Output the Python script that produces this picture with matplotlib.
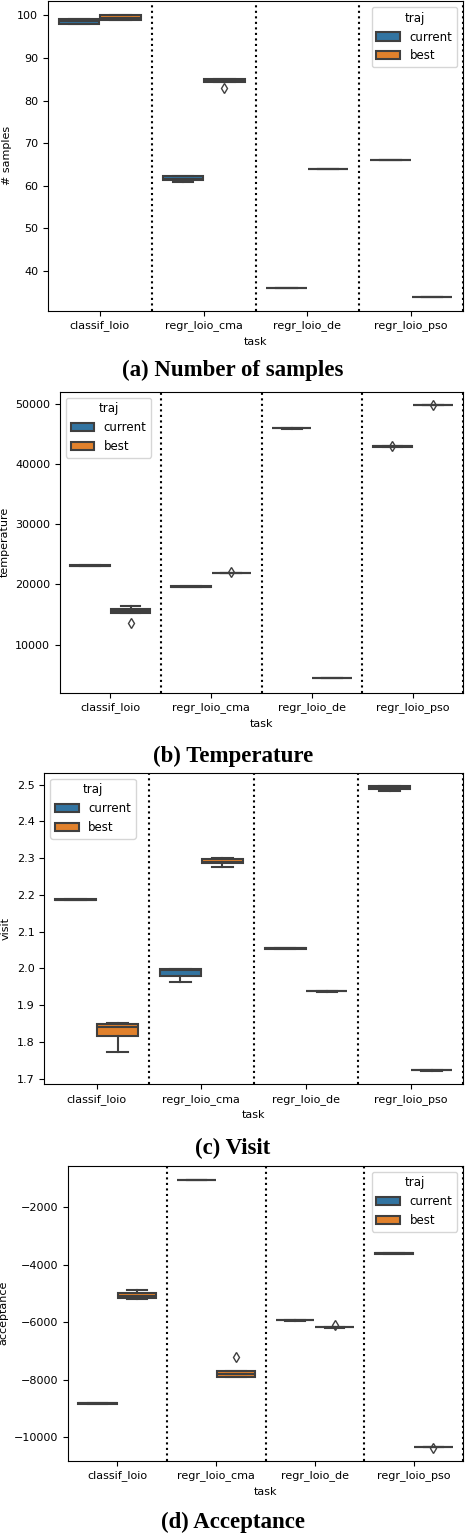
import matplotlib
matplotlib.use('Agg')
import matplotlib.pyplot as plt
from matplotlib.patches import Patch

tasks = ['classif_loio', 'regr_loio_cma', 'regr_loio_de', 'regr_loio_pso']
trajs = ['current', 'best']

# box summaries per task: (whisker low, q1, median, q3, whisker high)
samples_current = [(97.9, 98.0, 98.6, 99.1, 99.2), (60.9, 61.25, 61.7, 62.25, 62.3),
                   (36.0, 36.0, 36.0, 36.0, 36.0), (66.0, 66.0, 66.0, 66.0, 66.0)]
samples_current_fliers = [[], [], [], []]
samples_best = [(98.9, 99.0, 99.5, 100.0, 100.1), (84.4, 84.4, 84.75, 85.15, 85.15),
                (64.0, 64.0, 64.0, 64.0, 64.0), (34.0, 34.0, 34.0, 34.0, 34.0)]
samples_best_fliers = [[], [83.0], [], []]

temp_current = [(23000, 23050, 23100, 23180, 23200), (19620, 19630, 19650, 19670, 19680),
                (45880, 45890, 45900, 45910, 45920), (42880, 42890, 42900, 42910, 42920)]
temp_current_fliers = [[], [], [], [43050]]
temp_best = [(15200, 15212, 15600, 15925, 16480), (21830, 21840, 21850, 21860, 21870),
             (4400, 4405, 4412, 4420, 4425), (49700, 49710, 49720, 49730, 49740)]
temp_best_fliers = [[13550], [22050], [], [49800]]

visit_current = [(2.185, 2.186, 2.187, 2.188, 2.189), (1.962, 1.979, 1.996, 1.998, 1.999),
                 (2.053, 2.054, 2.0545, 2.055, 2.056), (2.483, 2.488, 2.492, 2.4955, 2.4955)]
visit_current_fliers = [[], [], [], []]
visit_best = [(1.772, 1.816, 1.840, 1.849, 1.8515), (2.277, 2.286, 2.291, 2.297, 2.300),
              (1.937, 1.9375, 1.938, 1.9385, 1.939), (1.722, 1.7225, 1.723, 1.7235, 1.724)]
visit_best_fliers = [[], [], [], []]

accept_current = [(-8840, -8830, -8819, -8805, -8800), (-1060, -1055, -1051, -1047, -1045),
                  (-5945, -5940, -5936, -5932, -5928), (-3620, -3615, -3609, -3604, -3600)]
accept_current_fliers = [[], [], [], []]
accept_best = [(-5195, -5161, -5080, -4999, -4871), (-7916, -7916, -7800, -7696, -7680),
               (-6185, -6178, -6168, -6160, -6155), (-10350, -10343, -10336, -10330, -10325)]
accept_best_fliers = [[], [-7210], [-6110], [-10355]]

panels = [
    ('# samples', samples_current, samples_current_fliers, samples_best, samples_best_fliers,
     (30.7, 103.4), [40, 50, 60, 70, 80, 90, 100], 'upper right', '(a) Number of samples'),
    ('temperature', temp_current, temp_current_fliers, temp_best, temp_best_fliers,
     (2030, 51990), [10000, 20000, 30000, 40000, 50000], 'upper left', '(b) Temperature'),
    ('visit', visit_current, visit_current_fliers, visit_best, visit_best_fliers,
     (1.6846, 2.5327), [1.7, 1.8, 1.9, 2.0, 2.1, 2.2, 2.3, 2.4, 2.5], 'upper left', '(c) Visit'),
    ('acceptance', accept_current, accept_current_fliers, accept_best, accept_best_fliers,
     (-10810, -564), [-10000, -8000, -6000, -4000, -2000], 'upper right', '(d) Acceptance'),
]

W, H = 466, 1536
# axes rectangles in pixels: left, right, top, bottom
rects = [(48, 463, 1, 310.6), (60, 463, 391.7, 692.7), (44.3, 463, 772.7, 1084.3), (68, 463, 1165.7, 1460.7)]
caption_y = [370, 756, 1148, 1522]

colors = {'current': '#3274a1', 'best': '#e1812c'}
gray = '#3f3f3f'
lw = 1.5
fs = 8

fig = plt.figure(figsize=(W / 100, H / 100), dpi=100)

def make_stats(boxes, fliers):
    out = []
    for (lo, q1, med, q3, hi), fl in zip(boxes, fliers):
        out.append(dict(whislo=lo, q1=q1, med=med, q3=q3, whishi=hi, fliers=fl))
    return out

for (ylabel, cur, curf, best, bestf, ylim, yticks, loc, caption), (l, r, t, b), cy in zip(panels, rects, caption_y):
    ax = fig.add_axes([l / W, 1 - b / H, (r - l) / W, (b - t) / H])
    for j, (trj, boxes, fl) in enumerate([('current', cur, curf), ('best', best, bestf)]):
        pos = [i - 0.2 + 0.4 * j for i in range(len(tasks))]
        ax.bxp(make_stats(boxes, fl), positions=pos, widths=0.392, patch_artist=True,
               manage_ticks=False,
               boxprops=dict(facecolor=colors[trj], edgecolor=gray, linewidth=lw, zorder=0.9),
               whiskerprops=dict(color=gray, linewidth=lw),
               capprops=dict(color=gray, linewidth=lw),
               medianprops=dict(color=gray, linewidth=lw),
               flierprops=dict(marker='d', markerfacecolor='none', markeredgecolor=gray,
                               markersize=5, linestyle='none'))
    for xv in [0.5, 1.5, 2.5, 3.5]:
        ax.axvline(xv, color='black', linestyle=':', linewidth=1.5)
    ax.set_xlim(-0.5, 3.5)
    ax.set_ylim(*ylim)
    ax.set_yticks(yticks)
    ax.set_xticks(range(len(tasks)))
    ax.set_xticklabels(tasks, fontsize=fs)
    ax.tick_params(axis='y', labelsize=fs)
    ax.set_xlabel('task', fontsize=fs)
    ax.set_ylabel(ylabel, fontsize=fs)
    handles = [Patch(facecolor=colors[tr], edgecolor=gray, linewidth=lw, label=tr) for tr in trajs]
    ax.legend(handles=handles, title='traj', loc=loc, fontsize=8.5, title_fontsize=8.5)
    fig.text(0.5, 1 - cy / H, caption, ha='center', va='center',
             fontsize=16.5, fontweight='bold', family=['Liberation Serif', 'DejaVu Serif'])

fig.savefig('out.png', dpi=100)
